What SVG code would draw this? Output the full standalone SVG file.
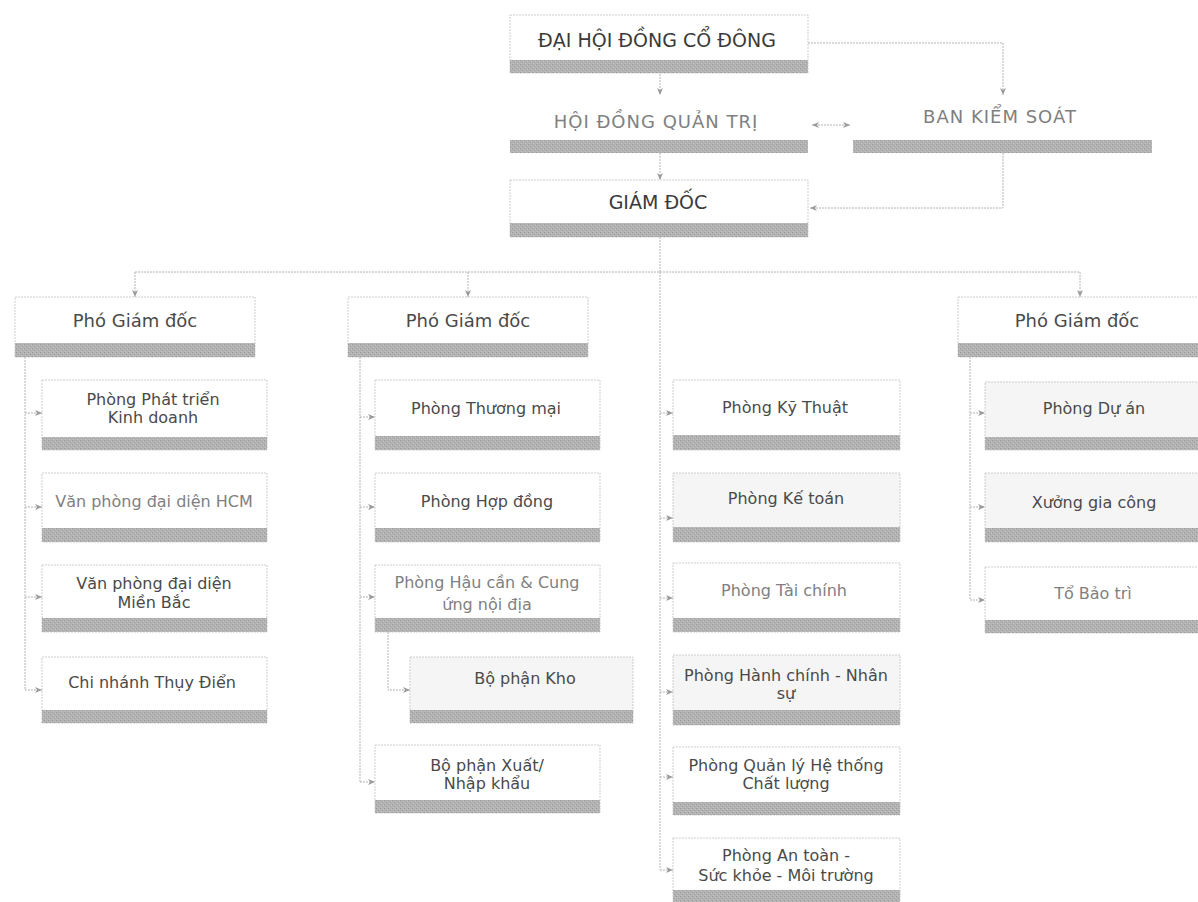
<svg xmlns="http://www.w3.org/2000/svg" width="1198" height="902" viewBox="0 0 1198 902">
<defs>
<pattern id="tex" width="4" height="4" patternUnits="userSpaceOnUse">
<rect width="4" height="4" fill="#b3b3b3"/>
<rect width="1" height="1" fill="#989898"/>
<rect x="2" y="2" width="1" height="1" fill="#9e9e9e"/>
<rect x="1" y="3" width="1" height="1" fill="#c6c6c6"/>
<rect x="3" y="1" width="1" height="1" fill="#c2c2c2"/>
</pattern>
<marker id="ar" markerWidth="8" markerHeight="8" refX="7" refY="4" orient="auto-start-reverse" markerUnits="userSpaceOnUse">
<path d="M0,1 L7,4 L0,7 L2,4 z" fill="#9a9a9a"/>
</marker>
</defs>
<style>
.box{fill:#ffffff;stroke:#cdcdcd;stroke-width:1;stroke-dasharray:2 1}
.boxg{fill:#f5f5f5;stroke:#cdcdcd;stroke-width:1;stroke-dasharray:2 1}
.nob{fill:#ffffff;stroke:none}
.bar{fill:url(#tex)}
.t{font-family:"DejaVu Sans",Verdana,sans-serif;font-size:16px;fill:#4a4a4a;text-anchor:middle}
.f{fill:#808080}
.h{font-size:18px}
.top{font-size:19px;fill:#3a3a3a}
.c{fill:none;stroke:#b4b4b4;stroke-width:1;stroke-dasharray:2 1}
.ca{fill:none;stroke:#b4b4b4;stroke-width:1;stroke-dasharray:2 1;marker-end:url(#ar)}
</style>

<g id="connectors">
<path class="ca" d="M660,74 V95"/>
<path class="ca" d="M808,43 H1003 V95"/>
<path class="c" d="M812,125 H850" marker-start="url(#ar)" marker-end="url(#ar)"/>
<path class="ca" d="M660,153 V180"/>
<path class="ca" d="M1003,153 V208 H810"/>
<path class="c" d="M660,237 V272"/>
<path class="c" d="M135,272 H1080"/>
<path class="ca" d="M135,272 V297"/>
<path class="ca" d="M468,272 V297"/>
<path class="ca" d="M1080,272 V297"/>
<!-- middle trunk -->
<path class="c" d="M660,272 V870"/>
<path class="ca" d="M660,413 H673"/>
<path class="ca" d="M660,518 H673"/>
<path class="ca" d="M660,598 H673"/>
<path class="ca" d="M660,692 H673"/>
<path class="ca" d="M660,777 H673"/>
<path class="ca" d="M660,870 H673"/>
<!-- left -->
<path class="c" d="M25,357 V690"/>
<path class="ca" d="M25,413 H42"/>
<path class="ca" d="M25,507 H42"/>
<path class="ca" d="M25,597 H42"/>
<path class="ca" d="M25,690 H42"/>
<!-- mid-left -->
<path class="c" d="M360,357 V782"/>
<path class="ca" d="M360,417 H375"/>
<path class="ca" d="M360,507 H375"/>
<path class="ca" d="M360,597 H375"/>
<path class="ca" d="M360,782 H375"/>
<path class="ca" d="M388,632 V690 H410"/>
<!-- right -->
<path class="c" d="M970,357 V600"/>
<path class="ca" d="M970,413 H985"/>
<path class="ca" d="M970,507 H985"/>
<path class="ca" d="M970,600 H985"/>
</g>

<g id="dhdcd">
<rect class="box" x="510" y="15" width="298" height="58"/>
<rect class="bar" x="510" y="60" width="298" height="13"/>
<text class="t top" x="657" y="47">ĐẠI HỘI ĐỒNG CỔ ĐÔNG</text>
</g>
<g id="hdqt">
<rect class="nob" x="510" y="100" width="298" height="53"/>
<rect class="bar" x="510" y="140" width="298" height="13"/>
<text class="t h f" x="656" y="128" letter-spacing="1">HỘI ĐỒNG QUẢN TRỊ</text>
</g>
<g id="bks">
<rect class="nob" x="853" y="100" width="299" height="53"/>
<rect class="bar" x="853" y="140" width="299" height="13"/>
<text class="t h f" x="1000" y="123" letter-spacing="1">BAN KIỂM SOÁT</text>
</g>
<g id="gd">
<rect class="box" x="510" y="180" width="298" height="57"/>
<rect class="bar" x="510" y="223" width="298" height="14"/>
<text class="t top" x="658" y="209">GIÁM ĐỐC</text>
</g>

<g id="pgd1">
<rect class="box" x="15" y="297" width="240" height="60"/>
<rect class="bar" x="15" y="343" width="240" height="14"/>
<text class="t h" x="135" y="327">Phó Giám đốc</text>
</g>
<g id="pgd2">
<rect class="box" x="348" y="297" width="240" height="60"/>
<rect class="bar" x="348" y="343" width="240" height="14"/>
<text class="t h" x="468" y="327">Phó Giám đốc</text>
</g>
<g id="pgd3">
<rect class="box" x="958" y="297" width="245" height="60"/>
<rect class="bar" x="958" y="343" width="245" height="14"/>
<text class="t h" x="1077" y="327">Phó Giám đốc</text>
</g>

<!-- left children -->
<g id="ptkd">
<rect class="box" x="42" y="380" width="225" height="70"/>
<rect class="bar" x="42" y="437" width="225" height="13"/>
<text class="t" x="153" y="405">Phòng Phát triển</text>
<text class="t" x="153" y="423">Kinh doanh</text>
</g>
<g id="vphcm">
<rect class="box" x="42" y="473" width="225" height="69"/>
<rect class="bar" x="42" y="528" width="225" height="14"/>
<text class="t f" x="154" y="507">Văn phòng đại diện HCM</text>
</g>
<g id="vpmb">
<rect class="box" x="42" y="565" width="225" height="67"/>
<rect class="bar" x="42" y="618" width="225" height="14"/>
<text class="t" x="154" y="589">Văn phòng đại diện</text>
<text class="t" x="154" y="608">Miền Bắc</text>
</g>
<g id="cntd">
<rect class="box" x="42" y="657" width="225" height="66"/>
<rect class="bar" x="42" y="710" width="225" height="13"/>
<text class="t" x="152" y="688">Chi nhánh Thụy Điển</text>
</g>

<!-- mid-left children -->
<g id="ptm">
<rect class="box" x="375" y="380" width="225" height="70"/>
<rect class="bar" x="375" y="436" width="225" height="14"/>
<text class="t" x="486" y="414">Phòng Thương mại</text>
</g>
<g id="phd">
<rect class="box" x="375" y="473" width="225" height="69"/>
<rect class="bar" x="375" y="528" width="225" height="14"/>
<text class="t" x="487" y="507">Phòng Hợp đồng</text>
</g>
<g id="phc">
<rect class="box" x="375" y="565" width="225" height="67"/>
<rect class="bar" x="375" y="618" width="225" height="14"/>
<text class="t f" x="487" y="588">Phòng Hậu cần &amp; Cung</text>
<text class="t f" x="487" y="610">ứng nội địa</text>
</g>
<g id="bpkho">
<rect class="boxg" x="410" y="657" width="223" height="66"/>
<rect class="bar" x="410" y="710" width="223" height="13"/>
<text class="t" x="525" y="684">Bộ phận Kho</text>
</g>
<g id="bpxnk">
<rect class="box" x="375" y="745" width="225" height="68"/>
<rect class="bar" x="375" y="800" width="225" height="13"/>
<text class="t" x="487" y="771">Bộ phận Xuất/</text>
<text class="t" x="487" y="789">Nhập khẩu</text>
</g>

<!-- middle children -->
<g id="pkt">
<rect class="box" x="673" y="380" width="227" height="70"/>
<rect class="bar" x="673" y="435" width="227" height="15"/>
<text class="t" x="785" y="413">Phòng Kỹ Thuật</text>
</g>
<g id="pketoan">
<rect class="boxg" x="673" y="473" width="227" height="69"/>
<rect class="bar" x="673" y="527" width="227" height="15"/>
<text class="t" x="786" y="504">Phòng Kế toán</text>
</g>
<g id="ptc">
<rect class="box" x="673" y="563" width="227" height="69"/>
<rect class="bar" x="673" y="618" width="227" height="14"/>
<text class="t f" x="784" y="596">Phòng Tài chính</text>
</g>
<g id="phcns">
<rect class="boxg" x="673" y="655" width="227" height="70"/>
<rect class="bar" x="673" y="710" width="227" height="15"/>
<text class="t" x="786" y="681">Phòng Hành chính - Nhân</text>
<text class="t" x="786" y="699">sự</text>
</g>
<g id="pqlcl">
<rect class="box" x="673" y="747" width="227" height="68"/>
<rect class="bar" x="673" y="802" width="227" height="13"/>
<text class="t" x="786" y="771">Phòng Quản lý Hệ thống</text>
<text class="t" x="786" y="789">Chất lượng</text>
</g>
<g id="patmt">
<rect class="box" x="673" y="838" width="227" height="65"/>
<rect class="bar" x="673" y="890" width="227" height="13"/>
<text class="t" x="786" y="861">Phòng An toàn -</text>
<text class="t" x="786" y="881">Sức khỏe - Môi trường</text>
</g>

<!-- right children -->
<g id="pda">
<rect class="boxg" x="985" y="382" width="220" height="68"/>
<rect class="bar" x="985" y="437" width="220" height="13"/>
<text class="t" x="1094" y="414">Phòng Dự án</text>
</g>
<g id="xgc">
<rect class="boxg" x="985" y="473" width="220" height="69"/>
<rect class="bar" x="985" y="528" width="220" height="14"/>
<text class="t" x="1094" y="508">Xưởng gia công</text>
</g>
<g id="tbt">
<rect class="box" x="985" y="567" width="220" height="66"/>
<rect class="bar" x="985" y="620" width="220" height="13"/>
<text class="t f" x="1093" y="599">Tổ Bảo trì</text>
</g>
</svg>
